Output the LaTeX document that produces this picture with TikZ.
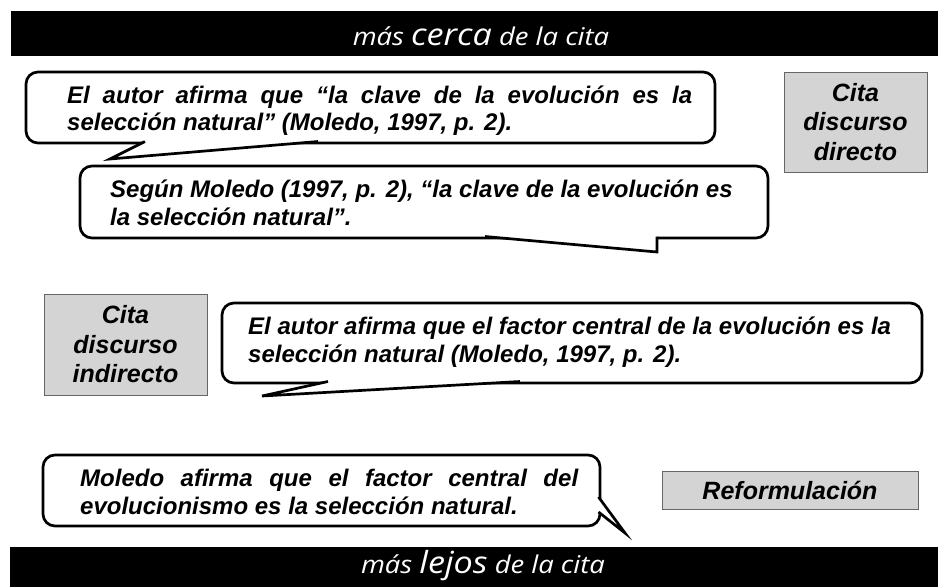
\documentclass[tikz,border=0pt]{standalone}
\usepackage{fontspec}
\setmainfont{Liberation Sans}
\newfontfamily\bandfont[FakeStretch=1.12]{Open Sans}
\usetikzlibrary{positioning}

\tikzset{
  band/.style={fill=black},
  bandtext/.style={text=white, inner sep=0pt, anchor=base, font=\bandfont\itshape\fontsize{24.5}{28}\selectfont},
  bubble/.style={draw=black, line width=2.7pt, rounded corners=12pt, fill=white},
  tail/.style={draw=black, line width=2.7pt, line join=miter},
  said/.style={anchor=west, inner sep=0pt, font=\bfseries\itshape\fontsize{24}{27.5}\selectfont},
  tag/.style={draw=black!60, line width=0.9pt, fill=black!17, inner sep=0pt, align=center,
    font=\bfseries\itshape\fontsize{25}{29.5}\selectfont},
}

\begin{document}
\begin{tikzpicture}[x=1pt, y=-1pt]
        \useasboundingbox (0,0) rectangle (938,587);

        % bands
        \fill[band] (11,11) rectangle (938,56);
        \node[bandtext] (near) at (481,45) {más {\fontsize{30.5}{32}\selectfont cerca} de la cita};
        \fill[band] (10,547) rectangle (938,587);
        \node[bandtext] (far) at (483,573) {más {\fontsize{30.5}{32}\selectfont lejos} de la cita};

        % direct quotation
        \draw[bubble] (26,72) rectangle (715,143);
        \fill[white] (145,140.5) -- (110,159) -- (318,140.5) -- cycle;
        \draw[tail] (145,141.5) -- (110,159) -- (318,141.5);
        \node[said, text width=625pt, align=justify] (q1) at (67,110.5)
          {El autor afirma que “la clave de la evolución es la\linebreak selección natural” (Moledo, 1997, p. 2).};

        \draw[bubble] (80,166) rectangle (768,238);
        \fill[white] (485,235.5) -- (657,252) -- (657,235.5) -- cycle;
        \draw[tail] (485,236.5) -- (657,252) -- (657,236.5);
        \node[said, align=left] (q2) at (110,203)
          {Según Moledo (1997, p. 2), “la clave de la evolución es\\la selección natural”.};

        \node[tag, minimum width=143pt, minimum height=100pt] (direct) at (855.5,122) {Cita\\discurso\\directo};

        % indirect quotation
        \node[tag, minimum width=163pt, minimum height=101pt] (indirect) at (125.5,344.5) {Cita\\discurso\\indirecto};

        \draw[bubble] (222,303) rectangle (922,383);
        \fill[white] (328,380.5) -- (262,396) -- (520,380.5) -- cycle;
        \draw[tail] (328,381.5) -- (262,396) -- (520,381.5);
        \node[said, align=left] (q3) at (248,342)
          {El autor afirma que el factor central de la evolución es la\\selección natural (Moledo, 1997, p. 2).};

        % paraphrase
        \draw[bubble] (43,455) rectangle (600,526);
        \fill[white] (597.5,497) -- (625,533) -- (597.5,512) -- cycle;
        \draw[tail] (598.5,497) -- (625,533) -- (598.5,512);
        \node[said, text width=498pt, align=justify] (q4) at (80,492)
          {Moledo afirma que el factor central del\linebreak evolucionismo es la selección natural.};

        \node[tag, minimum width=256pt, minimum height=38pt] (reform) at (790,490.5) {Reformulación};
\end{tikzpicture}
\end{document}
